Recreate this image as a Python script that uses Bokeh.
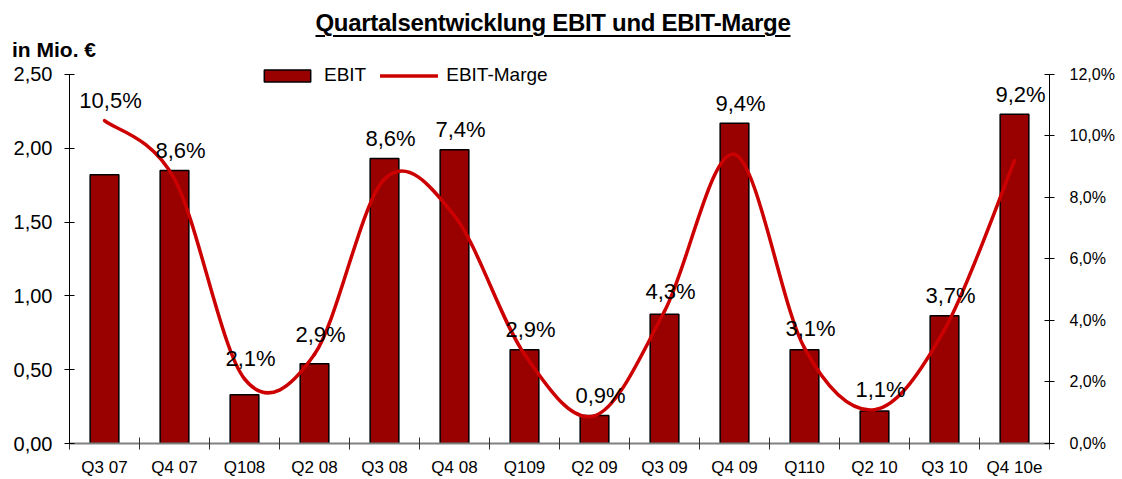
from bokeh.plotting import figure
from bokeh.layouts import column
from bokeh.models import (Range1d, LinearAxis, FixedTicker, CustomJSTickFormatter,
                          Legend, LegendItem, ColumnDataSource, Div)
from bokeh.core.properties import value
from bokeh.embed import file_html
from bokeh.resources import INLINE

quarters = ["Q3 07", "Q4 07", "Q108", "Q2 08", "Q3 08", "Q4 08", "Q109",
            "Q2 09", "Q3 09", "Q4 09", "Q110", "Q2 10", "Q3 10", "Q4 10e"]
ebit = [1.82, 1.85, 0.33, 0.54, 1.93, 1.99, 0.635, 0.19, 0.875, 2.17, 0.635, 0.22, 0.865, 2.23]
marge = [10.5, 8.6, 2.1, 2.9, 8.6, 7.4, 2.9, 0.9, 4.3, 9.4, 3.1, 1.1, 3.7, 9.2]
title_text = "Quartalsentwicklung EBIT und EBIT-Marge"
unit_text = "in Mio. €"

FONT = "Liberation Sans"
BAR = "#990000"
LINE = "#CC0000"

n = len(quarters)
xc = [i + 0.5 for i in range(n)]

# header (title with underline + unit)
div = Div(width=1122, height=58, margin=0, text=(
    '<div style="position:relative;width:1122px;height:58px;font-family:\'Liberation Sans\';color:black;">'
    '<div style="position:absolute;left:0;top:11px;width:1106px;text-align:center;font-size:24px;'
    'line-height:24px;font-weight:bold;letter-spacing:-0.3px;text-decoration:underline;'
    'text-decoration-thickness:2px;text-underline-offset:3.5px;white-space:nowrap;">'
    + title_text + '</div>'
    '<div style="position:absolute;left:12px;top:39px;font-size:21px;line-height:21px;'
    'font-weight:bold;white-space:nowrap;">' + unit_text + '</div></div>'))

frame_h = 386.0
y_top = 2.5 * frame_h / 370.0
pct_top = 12.0 * frame_h / 370.0

p = figure(width=1122, height=421, output_backend="svg", toolbar_location=None,
           x_range=Range1d(0, n), y_range=Range1d(0, y_top), title=None, margin=0,
           min_border_left=69, min_border_right=73, min_border_top=0, min_border_bottom=35)
p.extra_y_ranges = {"pct": Range1d(0, pct_top)}
p.outline_line_color = None
p.xgrid.visible = False
p.ygrid.visible = False
p.background_fill_color = "white"
p.border_fill_color = "white"

# bars
src = ColumnDataSource(dict(x=xc, top=ebit))
bars = p.vbar(x="x", top="top", width=0.41, source=src, fill_color=BAR,
              line_color="black", line_width=1.5)

# smoothed line (Excel-style Catmull-Rom beziers through the data points)
x0, y0, x1, y1, cx0, cy0, cx1, cy1 = [], [], [], [], [], [], [], []
for i in range(n - 1):
    pm = (xc[max(i - 1, 0)], marge[max(i - 1, 0)])
    pa = (xc[i], marge[i])
    pb = (xc[i + 1], marge[i + 1])
    pn = (xc[min(i + 2, n - 1)], marge[min(i + 2, n - 1)])
    x0.append(pa[0]); y0.append(pa[1]); x1.append(pb[0]); y1.append(pb[1])
    cx0.append(pa[0] + (pb[0] - pm[0]) / 6); cy0.append(pa[1] + (pb[1] - pm[1]) / 6)
    cx1.append(pb[0] - (pn[0] - pa[0]) / 6); cy1.append(pb[1] - (pn[1] - pa[1]) / 6)
line_r = p.bezier(x0=x0, y0=y0, x1=x1, y1=y1, cx0=cx0, cy0=cy0, cx1=cx1, cy1=cy1,
                  y_range_name="pct", line_color=LINE, line_width=3.5, line_cap="round")

# percentage labels, placed above the higher of bar top and line point
ratio = 12 / 2.5
anchor = [max(m, e * ratio) for m, e in zip(marge, ebit)]
pct_text = [("%.1f" % m).replace(".", ",") + "%" for m in marge]
p.text(x=xc, y=anchor, text=pct_text, y_range_name="pct", x_offset=6, y_offset=-20,
       text_align="center", text_baseline="alphabetic", text_font=value(FONT),
       text_font_size="22px", text_color="black")

# axes
xa = p.xaxis[0]
xa.ticker = FixedTicker(ticks=xc, minor_ticks=list(range(n + 1)))
xa.major_label_overrides = {x: q for x, q in zip(xc, quarters)}
xa.major_tick_line_color = None
xa.major_tick_in = 0
xa.major_tick_out = 0
xa.minor_tick_in = 6
xa.minor_tick_out = 6
xa.minor_tick_line_color = "#333333"
xa.axis_line_color = "#808080"
xa.axis_line_width = 2
xa.major_label_standoff = 8
xa.major_label_text_font = FONT
xa.major_label_text_font_size = "17px"
xa.major_label_text_color = "black"

ya = p.yaxis[0]
ya.bounds = (0, 2.5)
ya.ticker = FixedTicker(ticks=[0, 0.5, 1.0, 1.5, 2.0, 2.5], minor_ticks=[])
ya.formatter = CustomJSTickFormatter(code="return tick.toFixed(2).replace('.', ',');")
ya.major_tick_in = 5
ya.major_tick_out = 5
ya.major_tick_line_color = "black"
ya.axis_line_color = "black"
ya.major_label_standoff = 12
ya.major_label_text_font = FONT
ya.major_label_text_font_size = "20px"
ya.major_label_text_color = "black"

ra = LinearAxis(y_range_name="pct", bounds=(0, 12),
                ticker=FixedTicker(ticks=[0, 2, 4, 6, 8, 10, 12], minor_ticks=[]),
                formatter=CustomJSTickFormatter(code="return tick.toFixed(1).replace('.', ',') + '%';"))
ra.major_tick_in = 5
ra.major_tick_out = 5
ra.major_tick_line_color = "black"
ra.axis_line_color = "black"
ra.major_label_standoff = 15
ra.major_label_text_font = FONT
ra.major_label_text_font_size = "16px"
ra.major_label_text_color = "black"
p.add_layout(ra, "right")

# legend
legend = Legend(items=[LegendItem(label="EBIT", renderers=[bars]),
                       LegendItem(label="EBIT-Marge", renderers=[line_r])],
                location=(189, 357), orientation="horizontal",
                glyph_width=58, glyph_height=15, label_height=15, label_standoff=8,
                spacing=14, padding=0, margin=0, border_line_color=None,
                background_fill_alpha=0, label_text_font=FONT,
                label_text_font_size="19px", label_text_color="black")
p.add_layout(legend, "center")

layout = column(div, p, spacing=0, margin=0)
open("out.html", "w").write(file_html(layout, INLINE))
